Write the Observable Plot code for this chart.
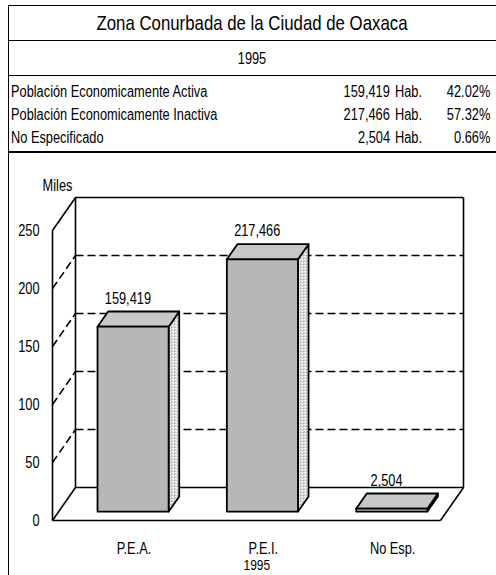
<!DOCTYPE html>
<html><head><meta charset="utf-8">
<script src="https://cdn.jsdelivr.net/npm/d3@7"></script>
<script src="https://cdn.jsdelivr.net/npm/@observablehq/plot@0.6"></script>
<style>
body{margin:0;background:#fff;}
#page{position:relative;width:496px;height:575px;font-family:"Liberation Sans",Arial,sans-serif;color:#000;overflow:hidden;}
.vline{position:absolute;left:8px;top:5px;width:0;height:570px;border-left:1.6px solid #000;}
.hline{position:absolute;left:8px;right:0;height:0;border-top:1.6px solid #000;}
.t{position:absolute;white-space:nowrap;line-height:1;}
#chart{position:absolute;left:0;top:152px;}
</style></head>
<body><div id="page"></div>
<script>
// ---- data ----
const title = "Zona Conurbada de la Ciudad de Oaxaca";
const year = "1995";
const rowLabels = ["Población Economicamente Activa", "Población Economicamente Inactiva", "No Especificado"];
const categories = ["P.E.A.", "P.E.I.", "No Esp."];
const values = [159419, 217466, 2504];          // habitantes
const percents = ["42.02%", "57.32%", "0.66%"];
const unit = "Hab.";
const yUnit = "Miles";
const yTicks = [0, 50, 100, 150, 200, 250];

const NARROW = 0.8;  // horizontal squeeze to imitate a narrow typeface
const page = document.getElementById("page");
function addText(txt, x, y, size, anchor) {
  const d = document.createElement("div");
  d.className = "t";
  d.textContent = txt;
  d.style.fontSize = size + "px";
  d.style.top = y + "px";
  if (anchor === "middle") {
    d.style.left = x + "px"; d.style.transformOrigin = "center center";
    d.style.transform = `translate(-50%,-50%) scaleX(${NARROW})`;
  } else if (anchor === "end") {
    d.style.right = (496 - x) + "px"; d.style.transformOrigin = "right center";
    d.style.transform = `translateY(-50%) scaleX(${NARROW})`;
  } else {
    d.style.left = x + "px"; d.style.transformOrigin = "left center";
    d.style.transform = `translateY(-50%) scaleX(${NARROW})`;
  }
  page.appendChild(d);
}
function addLine(y, w) {
  const d = document.createElement("div");
  d.className = "hline"; d.style.top = y + "px";
  if (w) d.style.borderTopWidth = w + "px";
  page.appendChild(d);
}
const v = document.createElement("div"); v.className = "vline"; page.appendChild(v);
addLine(5); addLine(40); addLine(75); addLine(151, 2.2);
addText(title, 252, 22, 21, "middle");
addText(year, 252, 59, 16, "middle");
const fmt = d3.format(",");
rowLabels.forEach((r, i) => {
  const y = 92 + i * 23;
  addText(r, 11, y, 16, "start");
  addText(fmt(values[i]), 390, y, 16, "end");
  addText(unit, 395, y, 16, "start");
  addText(percents[i], 490, y, 16, "end");
});

// ---- chart ----
const W = 496, H = 423;
const mL = 52, mR = 56, mT = 78, mB = 55;
const nCat = categories.length;
const yMax = d3.max(yTicks);
const pxX = (W - mL - mR) / nCat, pxY = (H - mT - mB) / yMax;
const DEPTH_X = 23, DEPTH_Y = 33;               // oblique depth in px
const dxu = DEPTH_X / pxX, dyu = DEPTH_Y / pxY;  // in data units
const P = (x, y, d) => ({x: x + d * dxu, y: y + d * dyu});
const seg = (a, b) => ({x1: a.x, y1: a.y, x2: b.x, y2: b.y});

const frame = [
  seg(P(0, 0, 0), P(0, yMax, 0)),
  seg(P(0, yMax, 0), P(0, yMax, 1)),
  seg(P(0, 0, 1), P(0, yMax, 1)),
  seg(P(0, yMax, 1), P(nCat, yMax, 1)),
  seg(P(nCat, 0, 1), P(nCat, yMax, 1)),
  seg(P(0, 0, 1), P(nCat, 0, 1)),
  seg(P(0, 0, 0), P(nCat, 0, 0)),
  seg(P(0, 0, 0), P(0, 0, 1)),
  seg(P(nCat, 0, 0), P(nCat, 0, 1))
];
const gridVals = yTicks.filter(t => t > 0 && t < yMax);
const grid = gridVals.flatMap(t => [seg(P(0, t, 1), P(nCat, t, 1)), seg(P(0, t, 0), P(0, t, 1))]);

const f0 = 0.27, f1 = 0.73, bL = 0.30, bR = 0.85;
const faces = [];
values.forEach((val, i) => {
  const h = val / 1000, a = i + bL, b = i + bR;
  const side = [P(b, 0, f0), P(b, 0, f1), P(b, h, f1), P(b, h, f0)];
  const top = [P(a, h, f0), P(b, h, f0), P(b, h, f1), P(a, h, f1)];
  const front = [P(a, 0, f0), P(b, 0, f0), P(b, h, f0), P(a, h, f0)];
  side.forEach(p => faces.push({...p, id: i + "s", kind: "side"}));
  top.forEach(p => faces.push({...p, id: i + "t", kind: "top"}));
  front.forEach(p => faces.push({...p, id: i + "f", kind: "front"}));
});
const faceFill = {side: "url(#dotSide)", top: "url(#dotTop)", front: "url(#dotFront)"};
const labels = values.map((val, i) => ({...P(i + (bL + bR) / 2 - 0.04, val / 1000, f0), text: fmt(val)}));
const cats = categories.map((c, i) => ({x: i + 0.63, y: 0, text: c}));

const chart = Plot.plot({
  width: W, height: H,
  marginLeft: mL, marginRight: mR, marginTop: mT, marginBottom: mB,
  x: {domain: [0, nCat], axis: null},
  y: {domain: [0, yMax]},
  style: {fontFamily: '"Liberation Sans",Arial,sans-serif', fontSize: "16px", color: "#000", background: "transparent"},
  marks: [
    Plot.link(grid, {x1: "x1", y1: "y1", x2: "x2", y2: "y2", stroke: "#000", strokeWidth: 1.6, strokeDasharray: "8,4"}),
    Plot.link(frame, {x1: "x1", y1: "y1", x2: "x2", y2: "y2", stroke: "#000", strokeWidth: 1.6}),
    ["side", "top", "front"].map(k => Plot.line(faces.filter(d => d.kind === k), {x: "x", y: "y", z: "id", curve: "linear-closed", fill: faceFill[k], stroke: "#000", strokeWidth: 1.8, strokeLinejoin: "round"})),
    Plot.axisY({ticks: yTicks, tickSize: 0, tickPadding: 13, fontSize: 16, fill: "#000"}),
    Plot.text(labels, {x: "x", y: "y", text: "text", dy: -28, fontSize: 16, fill: "#000"}),
    Plot.text(cats, {x: "x", y: "y", text: "text", dy: 28, fontSize: 16, fill: "#000"}),
    Plot.text([year], {x: 1.58, y: 0, text: d => d, dy: 45, fontSize: 15, fill: "#000"}),
    Plot.text([yUnit], {x: 0, y: yMax, text: d => d, dx: 5, dy: -45, fontSize: 16, fill: "#000"})
  ]
});
// dot patterns imitating the stippled fill
const defs = d3.select(chart).insert("defs", ":first-child");
function pattern(id, size, dots, bg) {
  const p = defs.append("pattern").attr("id", id).attr("patternUnits", "userSpaceOnUse")
    .attr("width", size).attr("height", size);
  p.append("rect").attr("width", size).attr("height", size).attr("fill", bg);
  dots.forEach(([x, y, c]) => p.append("rect").attr("x", x).attr("y", y).attr("width", 1).attr("height", 1).attr("fill", c));
}
pattern("dotFront", 2, [[0, 0, "#222"], [1, 1, "#bbb"]], "#fff");
pattern("dotTop", 2, [[0, 0, "#444"], [1, 1, "#ddd"]], "#fff");
pattern("dotSide", 3, [[0, 0, "#333"], [2, 1, "#777"]], "#fff");
// narrow the SVG text like the HTML text
chart.querySelectorAll("text").forEach(t => {
  const tr = t.getAttribute("transform");
  if (tr) t.setAttribute("transform", tr + ` scale(${NARROW},1)`);
  else {
    const x = +t.getAttribute("x") || 0, y = +t.getAttribute("y") || 0;
    t.removeAttribute("x"); t.removeAttribute("y");
    t.setAttribute("transform", `translate(${x},${y}) scale(${NARROW},1)`);
  }
});
chart.id = "chart";
page.appendChild(chart);
</script>
</body></html>
